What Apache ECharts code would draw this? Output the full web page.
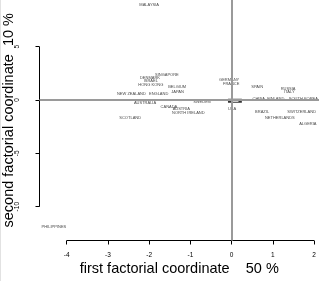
<!DOCTYPE html>
<html>
<head>
<meta charset="utf-8">
<script src="https://cdn.jsdelivr.net/npm/echarts@6/dist/echarts.min.js"></script>
<style>
html,body{margin:0;padding:0;background:#fff;}
#chart{width:319px;height:281px;}
</style>
</head>
<body>
<div id="chart"></div>
<script>
const countries = ['MALAYSIA','SINGAPORE','DENMARK','ISRAEL','HONG KONG','BELGIUM','JAPAN','NEW ZEALAND','ENGLAND','AUSTRALIA','CANADA','AUSTRIA','NORTH IRELAND','SWEDEN','SCOTLAND','GERMANY','FRANCE','SPAIN','RUSSIA','ITALY','CHINA','FINLAND','SOUTH KOREA','USA','BRAZIL','SWITZERLAND','NETHERLANDS','ALGERIA','PHILIPPINES'];
const firstFactor = [-2.00,-1.57,-1.98,-1.96,-1.96,-1.32,-1.31,-2.43,-1.77,-2.10,-1.52,-1.22,-1.05,-0.72,-2.46,-0.06,-0.01,0.62,1.37,1.40,0.66,1.07,1.74,0.01,0.74,1.70,1.17,1.85,-4.31];
const secondFactor = [8.90,2.37,2.03,1.75,1.41,1.25,0.78,0.53,0.53,-0.25,-0.63,-0.87,-1.19,-0.16,-1.72,1.85,1.47,1.22,1.03,0.75,0.12,0.12,0.12,-0.84,-1.10,-1.12,-1.72,-2.25,-11.87];
const xTicks = [-4,-3,-2,-1,0,1,2];
const yTicks = [-10,-5,0,5];
const xLimits = [-4.66, 2.12];
const yLimits = [-13.17, 9.375];
const originBox = [0.08, -0.07];
const xTitle = 'first factorial coordinate    50 %';
const yTitle = 'second factorial coordinate  10 %';

const FONT = 'Liberation Sans, Arial, sans-serif';
const chart = echarts.init(document.getElementById('chart'), null, {renderer:'canvas'});
chart.setOption({
  animation: false,
  backgroundColor: '#fff',
  graphic: [{type:'rect', shape:{x:0,y:0,width:1,height:281}, style:{fill:'#e2e2e2'}, silent:true}],
  grid: {left: 39.5, right: 0, top: 0, bottom: 40.5, containLabel: false, outerBoundsMode: 'none'},
  xAxis: {
    type: 'value', min: xLimits[0], max: xLimits[1],
    axisLine: {show: false, onZero: false}, splitLine: {show: false},
    axisTick: {show: true, customValues: xTicks, length: 4, lineStyle: {color: '#000', width: 1}},
    axisLabel: {customValues: xTicks, fontSize: 6.5, margin: 11, color: '#000', fontFamily: FONT},
    name: xTitle, nameLocation: 'middle', nameGap: 21, nameMoveOverlap: false,
    nameTextStyle: {fontSize: 14.5, color: '#000', fontFamily: FONT}
  },
  yAxis: {
    type: 'value', min: yLimits[0], max: yLimits[1],
    axisLine: {show: false, onZero: false}, splitLine: {show: false},
    axisTick: {show: true, customValues: yTicks, length: 4, lineStyle: {color: '#000', width: 1}},
    axisLabel: {customValues: yTicks, rotate: 90, align: 'center', verticalAlign: 'bottom', fontSize: 6.5, margin: 19, color: '#000', fontFamily: FONT},
    name: yTitle, nameLocation: 'middle', nameGap: 23, nameRotate: 90, nameMoveOverlap: false,
    nameTextStyle: {fontSize: 14.5, color: '#000', fontFamily: FONT}
  },
  series: [
    {
      type: 'scatter', name: 'countries', symbolSize: 1, silent: true,
      itemStyle: {color: 'rgba(0,0,0,0)'},
      data: countries.map((c, i) => ({name: c, value: [firstFactor[i], secondFactor[i]]})),
      label: {show: true, position: 'inside', formatter: '{b}', fontSize: 4, color: '#111', fontFamily: FONT},
      markLine: {
        silent: true, symbol: 'none', animation: false,
        label: {show: false},
        lineStyle: {color: '#9a9a9a', width: 2, type: 'solid'},
        data: [{xAxis: 0}, {yAxis: 0}]
      },
      z: 3
    },
    {
      type: 'line', name: 'xAxisLine', symbol: 'none', silent: true, clip: false,
      lineStyle: {color: '#000', width: 1},
      data: [[xTicks[0], yLimits[0]], [xTicks[xTicks.length - 1], yLimits[0]]]
    },
    {
      type: 'line', name: 'yAxisLine', symbol: 'none', silent: true, clip: false,
      lineStyle: {color: '#000', width: 1},
      data: [[xLimits[0], yTicks[0]], [xLimits[0], yTicks[yTicks.length - 1]]]
    },
    {
      type: 'scatter', name: 'origin', symbol: 'rect', symbolSize: [10.5, 3], silent: true,
      itemStyle: {color: 'rgba(0,0,0,0)', borderColor: '#000', borderWidth: 1.8},
      data: [originBox], z: 4
    }
  ]
});
</script>
</body>
</html>
